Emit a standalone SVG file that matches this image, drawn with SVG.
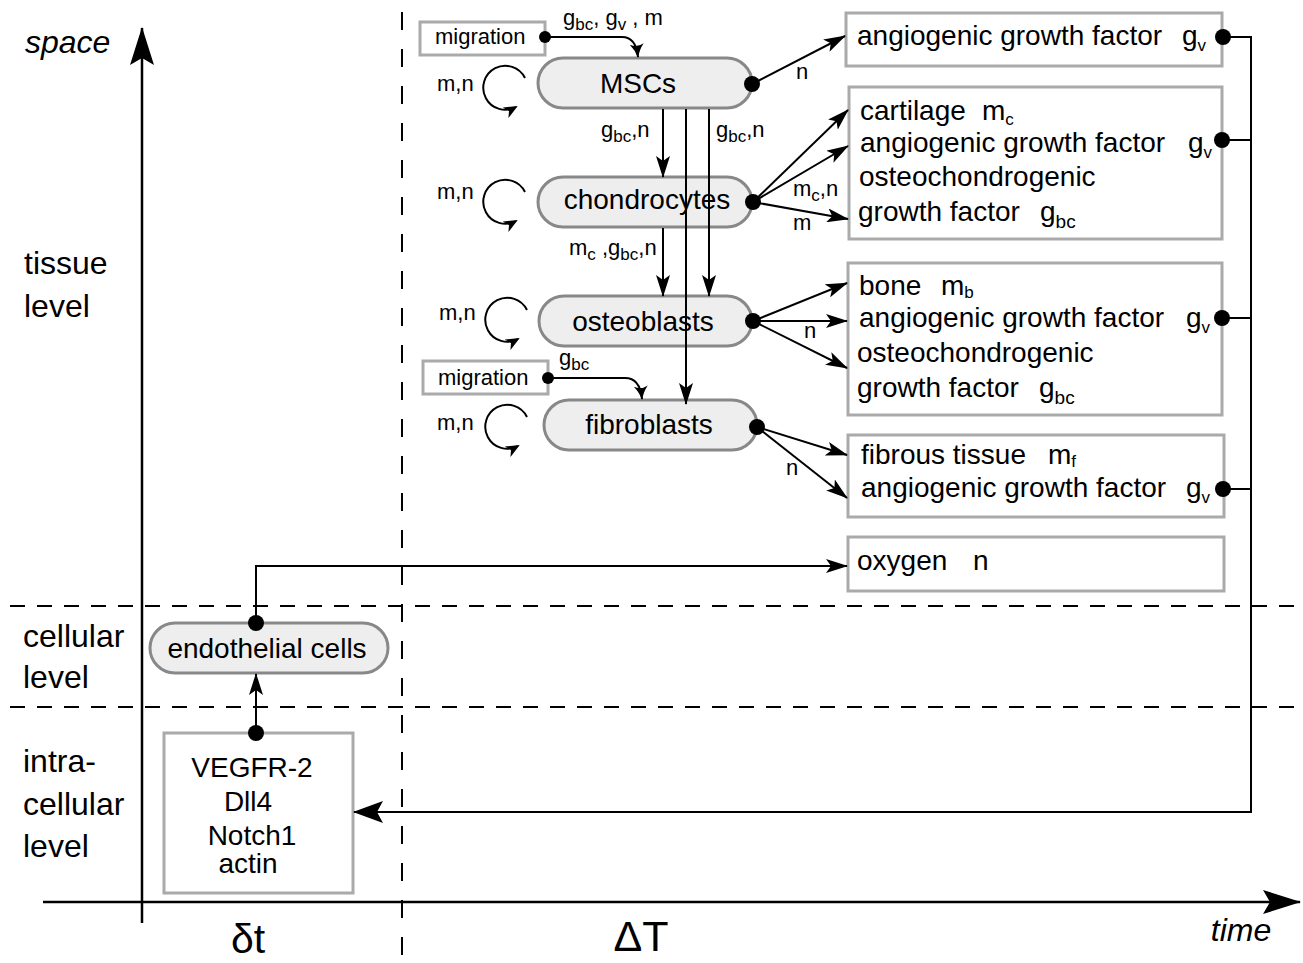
<svg xmlns="http://www.w3.org/2000/svg" width="1303" height="963" viewBox="0 0 1303 963">
<style>
text{font-family:"Liberation Sans",Arial,sans-serif;fill:#000}
.lvl{font-size:32px}
.nt{font-size:28px;text-anchor:middle}
.bt{font-size:28px}
.lb{font-size:22px}
.sb{font-size:17px}
.sbb{font-size:19px}
.node{fill:#eeeeee;stroke:#888888;stroke-width:3}
.box{fill:#ffffff;stroke:#aaaaaa;stroke-width:3}
.ln{fill:none;stroke:#000;stroke-width:2}
.dash{fill:none;stroke:#000;stroke-width:2}
</style>
<defs>
<marker id="arr" markerUnits="userSpaceOnUse" markerWidth="22" markerHeight="14" refX="21" refY="7" orient="auto" viewBox="0 0 22 14">
<path d="M0,0 L22,7 L0,14 L5,7 z" fill="#000"/>
</marker>
<marker id="axis" markerUnits="userSpaceOnUse" markerWidth="38" markerHeight="24" refX="37" refY="12" orient="auto" viewBox="0 0 38 24">
<path d="M0,0 L38,12 L0,24 L7,12 z" fill="#000"/>
</marker>
<marker id="fb" markerUnits="userSpaceOnUse" markerWidth="30" markerHeight="22" refX="29" refY="11" orient="auto" viewBox="0 0 30 22">
<path d="M0,0 L30,11 L0,22 L6,11 z" fill="#000"/>
</marker>
<marker id="barb" markerUnits="userSpaceOnUse" markerWidth="14" markerHeight="14" refX="13" refY="7" orient="auto" viewBox="0 0 14 14">
<path d="M0,0 Q6,5 14,7 Q6,9 0,14 Q4,7 0,0 z" fill="#000"/>
</marker>
<marker id="lp" markerUnits="userSpaceOnUse" markerWidth="14" markerHeight="12" refX="12" refY="6" orient="auto" viewBox="0 0 14 12">
<path d="M0,0 L14,6 L0,12 L4,6 z" fill="#000"/>
</marker>
</defs>

<!-- axes and level separators -->
<g id="axes">
<line x1="142" y1="923" x2="142" y2="28" stroke="#000" stroke-width="2.5" marker-end="url(#axis)"/>
<line x1="43" y1="902" x2="1300" y2="902" stroke="#000" stroke-width="2.5" marker-end="url(#axis)"/>
<line class="dash" x1="402" y1="12" x2="402" y2="963" stroke-dasharray="18 19"/>
<line class="dash" x1="10" y1="606" x2="1303" y2="606" stroke-dasharray="15 12"/>
<line class="dash" x1="10" y1="707" x2="1303" y2="707" stroke-dasharray="15 12"/>
<text x="25" y="53" class="lvl" font-style="italic">space</text>
<text x="24" y="274" class="lvl">tissue</text>
<text x="24" y="317" class="lvl">level</text>
<text x="23" y="647" class="lvl">cellular</text>
<text x="23" y="688" class="lvl">level</text>
<text x="23" y="772" class="lvl">intra-</text>
<text x="23" y="815" class="lvl">cellular</text>
<text x="23" y="857" class="lvl">level</text>
<text x="248" y="953" font-size="41" text-anchor="middle">δt</text>
<text x="641" y="951" font-size="43" text-anchor="middle">ΔT</text>
<text x="1241" y="941" font-size="32" font-style="italic" text-anchor="middle">time</text>
</g>

<!-- cell nodes -->
<g id="msc">
<rect class="node" x="538" y="58" width="214" height="50" rx="25"/>
<text class="nt" x="638" y="93">MSCs</text>
</g>
<g id="chondrocytes">
<rect class="node" x="538" y="177" width="214" height="50" rx="25"/>
<text class="nt" x="647" y="209">chondrocytes</text>
</g>
<g id="osteoblasts">
<rect class="node" x="539" y="296" width="213" height="50" rx="25"/>
<text class="nt" x="643" y="331">osteoblasts</text>
</g>
<g id="fibroblasts">
<rect class="node" x="544" y="400" width="213" height="50" rx="25"/>
<text class="nt" x="649" y="434">fibroblasts</text>
</g>
<g id="endothelial">
<rect class="node" x="150" y="623" width="238" height="50" rx="25"/>
<text class="nt" x="267" y="658">endothelial cells</text>
</g>
<g id="intracellular">
<rect class="box" x="164" y="733" width="189" height="160"/>
<text class="nt" x="252" y="777">VEGFR-2</text>
<text class="nt" x="248" y="811">Dll4</text>
<text class="nt" x="252" y="845">Notch1</text>
<text class="nt" x="248" y="873">actin</text>
</g>

<!-- migration nodes -->
<g id="migration1">
<rect class="box" x="420" y="22" width="125" height="33" stroke-width="2"/>
<text x="435" y="44" class="lb">migration</text>
</g>
<g id="migration2">
<rect class="box" x="423" y="361" width="125" height="33" stroke-width="2"/>
<text x="438" y="385" class="lb">migration</text>
</g>

<!-- product boxes -->
<g id="box-msc">
<rect class="box" x="846" y="13" width="376" height="53"/>
<text class="bt" x="857" y="45">angiogenic growth factor<tspan x="1182">g</tspan><tspan class="sb" dy="6">v</tspan></text>
</g>
<g id="box-chondro">
<rect class="box" x="849" y="87" width="373" height="152"/>
<text class="bt" x="860" y="120">cartilage<tspan x="982">m</tspan><tspan class="sb" dy="5">c</tspan></text>
<text class="bt" x="860" y="152">angiogenic growth factor<tspan x="1188">g</tspan><tspan class="sb" dy="6">v</tspan></text>
<text class="bt" x="859" y="186">osteochondrogenic</text>
<text class="bt" x="858" y="221">growth factor<tspan x="1040">g</tspan><tspan class="sbb" dy="7">bc</tspan></text>
</g>
<g id="box-osteo">
<rect class="box" x="848" y="263" width="374" height="152"/>
<text class="bt" x="859" y="295">bone<tspan x="941">m</tspan><tspan class="sb" dy="3">b</tspan></text>
<text class="bt" x="859" y="327">angiogenic growth factor<tspan x="1186">g</tspan><tspan class="sb" dy="6">v</tspan></text>
<text class="bt" x="857" y="362">osteochondrogenic</text>
<text class="bt" x="857" y="397">growth factor<tspan x="1039">g</tspan><tspan class="sbb" dy="7">bc</tspan></text>
</g>
<g id="box-fibro">
<rect class="box" x="848" y="435" width="376" height="82"/>
<text class="bt" x="861" y="464">fibrous tissue<tspan x="1048">m</tspan><tspan class="sb" dy="3">f</tspan></text>
<text class="bt" x="861" y="497">angiogenic growth factor<tspan x="1186">g</tspan><tspan class="sb" dy="6">v</tspan></text>
</g>
<g id="box-oxygen">
<rect class="box" x="848" y="537" width="376" height="54"/>
<text class="bt" x="857" y="570">oxygen<tspan x="973">n</tspan></text>
</g>

<!-- connectors -->
<g id="connectors">
<!-- migration -->
<path class="ln" stroke-width="2.5" d="M545,37 L622,37 Q636,37 638,57" marker-end="url(#barb)"/>
<circle cx="545" cy="37" r="6"/>
<text x="563" y="25" class="lb">g<tspan class="sb" dy="5">bc</tspan><tspan dy="-5">,  g</tspan><tspan class="sb" dy="5">v</tspan><tspan dy="-5"> , m</tspan></text>
<path class="ln" stroke-width="2.5" d="M548,378 L625,378 Q640,378 642,399" marker-end="url(#barb)"/>
<circle cx="548" cy="378" r="6"/>
<text x="559" y="365" class="lb">g<tspan class="sb" dy="5">bc</tspan></text>

<!-- self loops -->
<path class="ln" d="M525,78 A22,22 0 1 0 516,107" marker-end="url(#lp)"/>
<text x="437" y="91" class="lb">m,n</text>
<path class="ln" d="M525,192 A22,22 0 1 0 516,221" marker-end="url(#lp)"/>
<text x="437" y="199" class="lb">m,n</text>
<path class="ln" d="M527,310 A22,22 0 1 0 518,339" marker-end="url(#lp)"/>
<text x="439" y="320" class="lb">m,n</text>
<path class="ln" d="M527,417 A22,22 0 1 0 518,446" marker-end="url(#lp)"/>
<text x="437" y="430" class="lb">m,n</text>

<!-- differentiation -->
<line class="ln" x1="663" y1="109" x2="663" y2="177" marker-end="url(#arr)"/>
<line class="ln" x1="686" y1="109" x2="686" y2="404" marker-end="url(#arr)"/>
<line class="ln" x1="709" y1="109" x2="709" y2="296" marker-end="url(#arr)"/>
<line class="ln" x1="663" y1="228" x2="663" y2="296" marker-end="url(#arr)"/>
<text x="601" y="137" class="lb">g<tspan class="sb" dy="5">bc</tspan><tspan dy="-5">,n</tspan></text>
<text x="716" y="137" class="lb">g<tspan class="sb" dy="5">bc</tspan><tspan dy="-5">,n</tspan></text>
<text x="569" y="255" class="lb">m<tspan class="sb" dy="5">c</tspan><tspan dy="-5"> ,g</tspan><tspan class="sb" dy="5">bc</tspan><tspan dy="-5">,n</tspan></text>

<!-- production -->
<circle cx="752" cy="84" r="8"/>
<line class="ln" x1="752" y1="84" x2="845" y2="36" marker-end="url(#arr)"/>
<text x="796" y="79" class="lb">n</text>

<circle cx="753" cy="202" r="8"/>
<line class="ln" x1="753" y1="202" x2="848" y2="110" marker-end="url(#arr)"/>
<line class="ln" x1="753" y1="202" x2="848" y2="146" marker-end="url(#arr)"/>
<line class="ln" x1="753" y1="202" x2="848" y2="219" marker-end="url(#arr)"/>
<text x="793" y="196" class="lb">m<tspan class="sb" dy="5">c</tspan><tspan dy="-5">,n</tspan></text>
<text x="793" y="230" class="lb">m</text>

<circle cx="753" cy="321" r="8"/>
<line class="ln" x1="753" y1="321" x2="847" y2="283" marker-end="url(#arr)"/>
<line class="ln" x1="753" y1="321" x2="847" y2="321" marker-end="url(#arr)"/>
<line class="ln" x1="753" y1="321" x2="847" y2="368" marker-end="url(#arr)"/>
<text x="804" y="338" class="lb">n</text>

<circle cx="757" cy="427" r="8"/>
<line class="ln" x1="757" y1="427" x2="847" y2="455" marker-end="url(#arr)"/>
<line class="ln" x1="757" y1="427" x2="847" y2="498" marker-end="url(#arr)"/>
<text x="786" y="475" class="lb">n</text>

<!-- endothelial / oxygen -->
<circle cx="256" cy="623" r="8"/>
<path class="ln" d="M256,623 L256,566 L847,566" marker-end="url(#arr)"/>
<circle cx="256" cy="733" r="8"/>
<line class="ln" x1="256" y1="733" x2="256" y2="674" marker-end="url(#arr)"/>

<!-- feedback of angiogenic growth factor -->
<circle cx="1223" cy="37" r="8"/>
<circle cx="1222" cy="140" r="8"/>
<circle cx="1222" cy="318" r="8"/>
<circle cx="1223" cy="489" r="8"/>
<path class="ln" d="M1223,37 L1251,37 L1251,812 L354,812" marker-end="url(#fb)"/>
<line class="ln" x1="1222" y1="140" x2="1251" y2="140"/>
<line class="ln" x1="1222" y1="318" x2="1251" y2="318"/>
<line class="ln" x1="1223" y1="489" x2="1251" y2="489"/>
</g>
</svg>
